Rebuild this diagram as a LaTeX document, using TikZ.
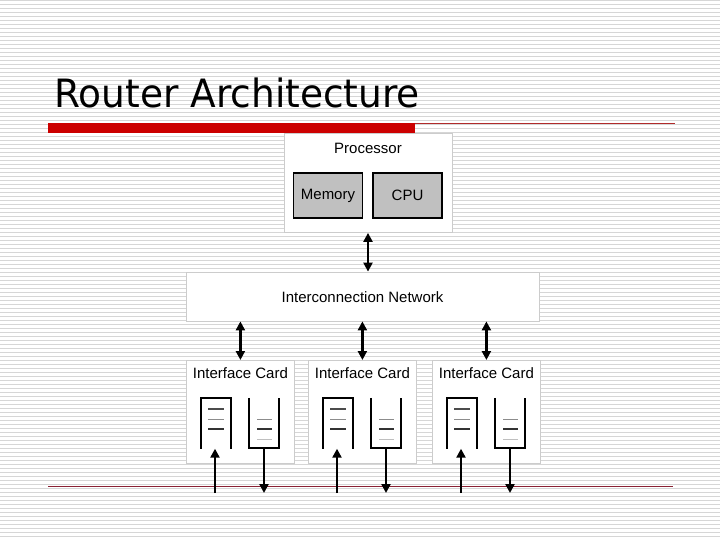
\documentclass[tikz,border=0pt]{standalone}
\usepackage{fontspec}
\setmainfont{Liberation Sans}
\newfontfamily\titlefont{DejaVu Sans}
\usetikzlibrary{arrows.meta,calc}
\definecolor{stripe}{HTML}{D6D6D6}
\definecolor{boxline}{HTML}{CCCCCC}
\definecolor{grayfill}{HTML}{C0C0C0}
\definecolor{redbar}{HTML}{CC0000}
\definecolor{thinred}{HTML}{B02A2A}
\definecolor{botred}{HTML}{8A2234}
\tikzset{
  whitebox/.style={draw=boxline, fill=white, line width=0.8pt, inner sep=0pt},
  graybox/.style={draw=black, fill=grayfill, line width=1.3pt, inner sep=0pt, minimum width=69pt, minimum height=45pt, font=\fontsize{15}{17}\selectfont},
  lbl/.style={font=\fontsize{15}{17}\selectfont, inner sep=0pt},
  dbl/.style={line width=2.2pt, {Triangle[width=9pt,length=9pt]}-{Triangle[width=9pt,length=9pt]}},
  sgl/.style={line width=2.4pt, -{Triangle[width=9pt,length=9pt]}},
  qwall/.style={line width=1.8pt, draw=black},
  qslot/.style={inner sep=0pt, minimum width=30pt, minimum height=50pt},
}
\begin{document}
\begin{tikzpicture}[x=1pt,y=-1pt]
\useasboundingbox (0,0) rectangle (720,540);
\fill[white] (0,0) rectangle (720,540);
\foreach \k in {0,...,134} \draw[stripe, line width=1pt] (0,4*\k+0.5) -- (720,4*\k+0.5);
% title
\node[anchor=base west, inner sep=0pt, font=\titlefont\fontsize{37.5}{40}\selectfont, yscale=1.04] (title) at (54,108) {Router Architecture};
\fill[redbar] (48,123) rectangle (415,133);
\draw[thinred, line width=1pt] (415,123.5) -- (675,123.5);
\draw[botred, line width=1pt] (48,486) -- (673,486);
% processor
\node[whitebox, minimum width=168pt, minimum height=99pt] (proc) at (368,183) {};
\node[lbl] (proctxt) at (368,148) {Processor};
\node[graybox] (mem) at (328,195.5) {Memory};
\node[graybox] (cpu) at (407.5,195.5) {CPU};
% network
\node[whitebox, minimum width=353pt, minimum height=49pt] (net) at (362.5,296.5) {};
\node[lbl] (nettxt) at (362.5,297) {Interconnection Network};
\draw[dbl] (proc.south) -- (proc.south |- net.north);
% cards
\foreach \i/\x in {1/186,2/308,3/432}{
  \node[whitebox, minimum width=108pt, minimum height=103pt, anchor=north west] (card\i) at (\x,360) {};
  \node[lbl] (ctxt\i) at ($(card\i.north)+(0,13.5)$) {Interface Card};
  \node[qslot] (qin\i) at (\x+30,423.5) {};
  \node[qslot] (qout\i) at (\x+78,423) {};
  \draw[qwall] (qin\i.south west) -- (qin\i.north west) -- (qin\i.north east) -- (qin\i.south east);
  \draw[qwall] (qout\i.north west) -- (qout\i.south west) -- (qout\i.south east) -- (qout\i.north east);
  \draw[black!70, line width=1.2pt] (\x+22,409) -- (\x+38,409);
  \draw[black!45, line width=1pt] (\x+22,419) -- (\x+38,419);
  \draw[black!80, line width=1.5pt] (\x+22,429) -- (\x+38,429);
  \draw[black!45, line width=1pt] (\x+71,419) -- (\x+86,419);
  \draw[black!80, line width=1.5pt] (\x+71,429) -- (\x+86,429);
  \draw[black!25, line width=1pt] (\x+71,439) -- (\x+86,439);
  \coordinate (inbot\i) at (\x+29,493);
  \coordinate (outbot\i) at (\x+78,493);
  \draw[sgl] (inbot\i) -- (inbot\i |- qin\i.south);
  \draw[sgl] (qout\i.south) -- (outbot\i);
  \draw[dbl] (card\i.north) -- (card\i.north |- net.south);
}
\end{tikzpicture}
\end{document}
